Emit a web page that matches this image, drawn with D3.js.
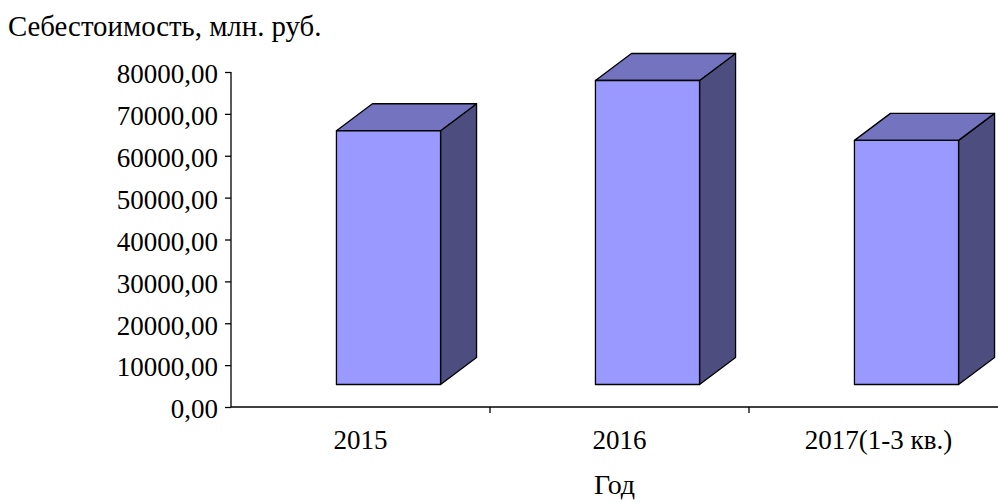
<!DOCTYPE html>
<html>
<head>
<meta charset="utf-8">
<script src="https://cdn.jsdelivr.net/npm/d3@7"></script>
<style>
  html, body { margin: 0; padding: 0; background: #fff; }
  svg { display: block; }
  text { font-family: "Liberation Serif", "Times New Roman", serif; fill: #000; }
</style>
</head>
<body>
<svg id="chart" width="998" height="503"></svg>
<script>
// Себестоимость по годам, млн. руб.
const categories = ["2015", "2016", "2017(1-3 кв.)"];
const costValues = [60600, 72600, 58300];
const yTickValues = [0, 10000, 20000, 30000, 40000, 50000, 60000, 70000, 80000];
const yTitle = "Себестоимость, млн. руб.";
const xTitle = "Год";

const FONT = "Liberation Serif, Times New Roman, serif";
const svg = d3.select("#chart");

// plot frame (front plane of the 3D floor)
const x = d3.scaleBand().domain(categories).range([231, 1008]).padding(0);
const y = d3.scaleLinear().domain([0, 80000]).range([407, 72]);

// oblique projection offsets for the 3D columns
const gap = { dx: 28, dy: -22.5 };   // floor front edge -> column front face
const depth = { dx: 36, dy: -27 };   // column front face -> back face
const barW = x.bandwidth() * 0.402;

const fmt = v => d3.format(".2f")(v).replace(".", ",");

// value axis
const yAxis = d3.axisLeft(y).tickValues(yTickValues).tickSize(6).tickPadding(7).tickFormat(fmt);
const gy = svg.append("g")
  .attr("transform", "translate(231,0)")
  .call(yAxis)
  .attr("font-family", FONT)
  .attr("font-size", 27);
gy.select(".domain").attr("stroke", "#000").attr("stroke-width", 1.3).attr("d", "M0," + y(80000) + "V" + y(0));
gy.selectAll(".tick line").attr("stroke", "#000").attr("stroke-width", 1.3);
gy.selectAll(".tick text")
  .attr("fill", "#000")
  .attr("dy", "0.4em");

// category axis
const xAxis = d3.axisBottom(x).tickSize(0).tickPadding(0);
const gx = svg.append("g")
  .attr("transform", "translate(0," + y(0) + ")")
  .call(xAxis)
  .attr("font-family", FONT)
  .attr("font-size", 27);
gx.select(".domain").attr("stroke", "#000").attr("stroke-width", 1.3).attr("d", "M231,0H998");
gx.selectAll(".tick text")
  .attr("fill", "#000")
  .attr("y", 42)
  .attr("dy", 0);
// category separators
gx.selectAll(".sep")
  .data(categories.slice(1))
  .join("line")
  .attr("class", "sep")
  .attr("x1", d => x(d)).attr("x2", d => x(d))
  .attr("y1", 0).attr("y2", 6)
  .attr("stroke", "#000").attr("stroke-width", 1.3);

// 3D columns
const bars = svg.append("g")
  .selectAll("g.bar")
  .data(categories.map((c, i) => ({ c, v: costValues[i] })))
  .join("g")
  .attr("class", "bar");

const geom = d => {
  const cx = x(d.c) + x.bandwidth() / 2 + gap.dx;
  const x0 = cx - barW / 2, x1 = cx + barW / 2;
  const yb = y(0) + gap.dy, yt = y(d.v) + gap.dy;
  return { x0, x1, yb, yt };
};

bars.append("path") // side face
  .attr("d", d => {
    const g = geom(d);
    return `M${g.x1},${g.yb}L${g.x1 + depth.dx},${g.yb + depth.dy}L${g.x1 + depth.dx},${g.yt + depth.dy}L${g.x1},${g.yt}Z`;
  })
  .attr("fill", "#4d4d80").attr("stroke", "#000").attr("stroke-width", 1.3).attr("stroke-linejoin", "round");

bars.append("path") // top face
  .attr("d", d => {
    const g = geom(d);
    return `M${g.x0},${g.yt}L${g.x0 + depth.dx},${g.yt + depth.dy}L${g.x1 + depth.dx},${g.yt + depth.dy}L${g.x1},${g.yt}Z`;
  })
  .attr("fill", "#7373bf").attr("stroke", "#000").attr("stroke-width", 1.3).attr("stroke-linejoin", "round");

bars.append("path") // front face
  .attr("d", d => {
    const g = geom(d);
    return `M${g.x0},${g.yb}L${g.x0},${g.yt}L${g.x1},${g.yt}L${g.x1},${g.yb}Z`;
  })
  .attr("fill", "#9999ff").attr("stroke", "#000").attr("stroke-width", 1.3).attr("stroke-linejoin", "round");

// titles
svg.append("text")
  .attr("x", 8).attr("y", 36)
  .attr("font-family", FONT)
  .attr("font-size", 28.8)
  .text(yTitle);

svg.append("text")
  .attr("x", x("2016") + x.bandwidth() / 2 - 5).attr("y", 494)
  .attr("text-anchor", "middle")
  .attr("font-family", FONT)
  .attr("font-size", 28)
  .text(xTitle);
</script>
</body>
</html>
